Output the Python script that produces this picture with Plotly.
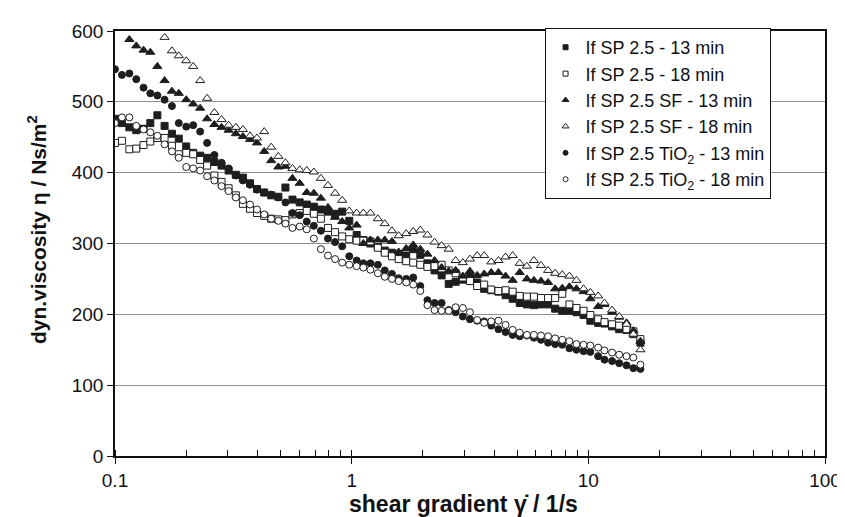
import plotly.graph_objects as go

# shear gradient (1/s)
shear_rate = [0.100, 0.107, 0.115, 0.123, 0.132, 0.141, 0.151, 0.162, 0.174, 0.186,
              0.200, 0.214, 0.229, 0.245, 0.263, 0.282, 0.302, 0.324, 0.347, 0.372,
              0.398, 0.427, 0.457, 0.490, 0.525, 0.562, 0.603, 0.646, 0.692, 0.741,
              0.794, 0.851, 0.912, 0.977, 1.05, 1.12, 1.20, 1.29, 1.38, 1.48,
              1.58, 1.70, 1.82, 1.95, 2.09, 2.24, 2.40, 2.57, 2.75, 2.95,
              3.16, 3.39, 3.63, 3.89, 4.17, 4.47, 4.79, 5.13, 5.50, 5.89,
              6.31, 6.76, 7.24, 7.76, 8.32, 8.91, 9.55, 10.2, 11.0, 11.7,
              12.6, 13.5, 14.5, 15.5, 16.6]

sp_13 = [476, 470, 464, 460, 462, 470, 481, 466, 455, 448,
         437, 428, 424, 421, 415, 410, 403, 397, 393, 385,
         377, 372, 368, 366, 379, 362, 358, 355, 352, 348,
         345, 342, 345, 332, 312, 305, 300, 295, 290, 287,
         285, 283, 292, 284, 272, 262, 255, 243, 246, 249,
         254, 245, 236, 234, 232, 227, 222, 216, 214, 213,
         214, 214, 208, 205, 205, 203, 199, 191, 188, 187,
         183, 179, 178, 172, 160]

sp_18 = [442, 445, 433, 434, 439, 444, 449, 449, 438, 426,
         428, 426, 418, 410, 396, 387, 378, 368, 356, 349,
         343, 339, 335, 334, 333, 341, 343, 346, 342, 335,
         322, 316, 310, 306, 304, 304, 303, 294, 287, 282,
         278, 275, 273, 270, 267, 268, 270, 262, 258, 252,
         247, 240, 242, 235, 233, 234, 232, 226, 225, 225,
         223, 223, 223, 229, 214, 209, 205, 199, 193, 189,
         186, 184, 179, 176, 165]

sf_13 = [588, 579, 573, 570, 550, 530, 515, 512, 503, 497,
         491, 476, 468, 464, 460, 455, 451, 447, 442, 430,
         417, 408, 409, 392, 385, 372, 371, 364, 351, 337,
         331, 322, 326, 300, 305, 305, 305, 303, 288, 293,
         298, 292, 285, 276, 266, 261, 262, 254, 261, 255,
         257, 259, 259, 254, 248, 259, 250, 248, 247, 245,
         236, 237, 239, 236, 232, 222, 211, 214, 203, 196,
         188, 177, 162]

sf_18 = [591, 572, 565, 558, 550, 530, 505, 485, 475, 467,
         464, 461, 452, 449, 458, 436, 423, 414, 406, 404,
         403, 401, 392, 382, 371, 361, 346, 343, 343, 343,
         335, 328, 318, 311, 314, 317, 319, 312, 302, 297,
         292, 276, 273, 278, 283, 283, 274, 276, 281, 283,
         272, 268, 276, 269, 262, 258, 256, 254, 248, 236,
         231, 226, 216, 206, 197, 186, 172, 150]

tio2_13 = [546, 538, 540, 532, 520, 512, 509, 503, 494, 470,
           465, 467, 458, 442, 425, 414, 406, 396, 389, 383,
           376, 372, 369, 365, 358, 343, 340, 331, 325, 318,
           307, 302, 296, 282, 276, 272, 272, 270, 262, 257,
           251, 250, 252, 240, 220, 216, 216, 206, 203, 197,
           193, 191, 190, 184, 179, 175, 171, 169, 170, 167,
           164, 160, 158, 157, 152, 150, 148, 147, 141, 136,
           134, 131, 128, 124, 123]

tio2_18 = [470, 478, 478, 466, 461, 457, 452, 440, 430, 421,
           408, 406, 403, 395, 389, 381, 374, 365, 361, 355,
           348, 341, 335, 332, 328, 322, 324, 320, 307, 292,
           283, 278, 273, 270, 268, 266, 263, 258, 253, 250,
           247, 245, 242, 233, 213, 206, 205, 205, 210, 209,
           203, 192, 188, 190, 191, 185, 178, 174, 171, 171,
           170, 169, 166, 164, 162, 158, 157, 156, 153, 149,
           146, 143, 141, 139, 129]

series_names = ["If SP 2.5 - 13 min", "If SP 2.5 - 18 min",
                "If SP 2.5 SF - 13 min", "If SP 2.5 SF - 18 min",
                "If SP 2.5 TiO<sub>2</sub> - 13 min", "If SP 2.5 TiO<sub>2</sub> - 18 min"]
y_ticks = [0, 100, 200, 300, 400, 500, 600]
x_ticks = [0.1, 1, 10, 100]
x_tick_text = ["0.1", "1", "10", "100"]

DARK = "#1e1e1e"
series = [
    (shear_rate, sp_13, "square", DARK, 7, 5),
    (shear_rate, sp_18, "square", "white", 7, 5),
    (shear_rate[2:], sf_13, "triangle-up", DARK, 8, 6),
    (shear_rate[7:], sf_18, "triangle-up", "white", 8, 6),
    (shear_rate, tio2_13, "circle", DARK, 7, 5),
    (shear_rate, tio2_18, "circle", "white", 7, 5),
]

fig = go.Figure()
for (xs, ys, sym, fill, size, lsize), name in zip(series, series_names):
    fig.add_trace(go.Scatter(
        x=xs, y=ys, mode="markers", name=name, showlegend=False,
        marker=dict(symbol=sym, size=size, color=fill,
                    line=dict(color=DARK, width=1)),
    ))
# legend entries with the small legend symbols of the reference
for (xs, ys, sym, fill, size, lsize), name in zip(series, series_names):
    fig.add_trace(go.Scatter(
        x=[None], y=[None], mode="markers", name=name, showlegend=True,
        marker=dict(symbol=sym, size=lsize, color=fill,
                    line=dict(color=DARK, width=1)),
    ))

# invisible trace on overlay axis for inside major ticks
fig.add_trace(go.Scatter(x=[0.1, 100], y=[0, 0], xaxis="x2", mode="markers",
                         marker=dict(opacity=0), showlegend=False, hoverinfo="skip"))

FONT = "Liberation Sans, Arial, Helvetica, sans-serif"
fig.update_layout(
    width=845, height=517,
    margin=dict(l=107, r=17, t=23, b=69),
    paper_bgcolor="white", plot_bgcolor="white",
    font=dict(family=FONT, color="#111", size=19),
    xaxis=dict(type="log", range=[-1, 2], tickvals=x_ticks, ticktext=x_tick_text,
               ticks="outside", ticklen=6, tickcolor="#111", tickwidth=1.2,
               showline=True, linecolor="#111", linewidth=1.5, mirror=True,
               showgrid=False, zeroline=False,
               minor=dict(ticks="inside", ticklen=6, tickcolor="#111", tickwidth=1,
                          dtick="D1", showgrid=False),
               tickfont=dict(size=19, family=FONT)),
    xaxis2=dict(type="log", range=[-1, 2], overlaying="x", anchor="y", side="bottom",
                tickvals=x_ticks, ticks="inside", ticklen=6, tickcolor="#111", tickwidth=1.2,
                showticklabels=False, showgrid=False, zeroline=False, showline=False),
    yaxis=dict(range=[0, 600], tickvals=y_ticks, ticks="outside", ticklen=6,
               tickcolor="#111", tickwidth=1.2,
               showline=True, linecolor="#111", linewidth=1.5, mirror=True,
               showgrid=True, gridcolor="#8f8f8f", gridwidth=1.3, zeroline=False,
               tickfont=dict(size=19, family=FONT)),
    legend=dict(x=0.605, y=1.007, xanchor="left", yanchor="top",
                bgcolor="white", bordercolor="#111", borderwidth=1,
                font=dict(size=18, family=FONT), itemwidth=30,
                tracegroupgap=0),
    showlegend=True,
)

fig.add_annotation(text="<b>dyn.viscosity η / Ns/m<sup>2</sup></b>",
                   xref="paper", yref="paper", x=-0.1096, y=0.532,
                   textangle=-90, showarrow=False, font=dict(size=21, family=FONT),
                   xanchor="center", yanchor="middle")
fig.add_annotation(text="<b>shear gradient γ̇ / 1/s</b>",
                   xref="paper", yref="paper", x=0.491, y=-0.113,
                   showarrow=False, font=dict(size=23, family=FONT),
                   xanchor="center", yanchor="middle")

fig.write_html("out.html")
